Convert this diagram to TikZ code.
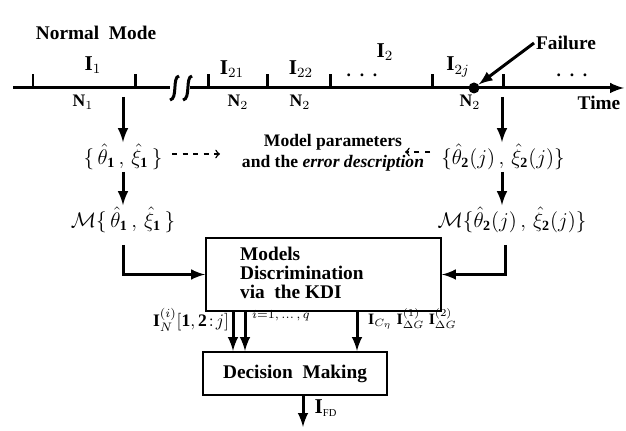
\documentclass[tikz,border=0pt]{standalone}
\usepackage{xcolor}
\usepackage{amsmath}
\usepackage{fontspec}
\setmainfont{Liberation Serif}
\usepackage{tikz}
\usetikzlibrary{arrows, positioning}

\tikzset{
	thickline/.style={line width=0.06cm},
	flow/.style={line width=0.06cm, -latex},
	hint/.style={line width=0.03cm, dashed, ->},
	box/.style={draw, line width=0.04cm, rectangle},
	tag/.style={font=\bfseries, inner sep=1pt},
	bigtag/.style={font=\fontsize{11}{11}\selectfont\bfseries, inner sep=1pt},
	param/.style={font=\large, inner sep=1pt}
}

\begin{document}
\begin{tikzpicture}[x=0.02cm, y=-0.02cm]
	\useasboundingbox (0,0) rectangle (626,431);
	% Zeitachse
	\coordinate (tLeft) at (13,88);
	\coordinate (tBreakL) at (170,88);
	\coordinate (tBreakR) at (190,88);
	\coordinate (tRight) at (624,88);
	\draw[
		thickline
	] (tLeft) -- (tBreakL);
	\draw[
		thickline,
		-latex
	] (tBreakR) -- (tRight);
	% Unterbrechung
	\foreach \c in {175,188}
		\draw[
			thickline
		] (\c+4,76) .. controls (\c-3,77) and (\c+3,99) .. (\c-5,100);
	% Markierungen
	\foreach \x in {33,135,208,267,330,432,503}
		\draw[
			thickline
		] (\x,88) -- (\x,74);
	% Beschriftung oben
	\node[bigtag] (normal) at (96,33) {Normal\ \ Mode};
	\node[bigtag, font=\large] (iOne) at (93,65) {$\mathbf{I}_1$};
	\node[bigtag, font=\large] (iTwoOne) at (232,69) {$\mathbf{I}_{21}$};
	\node[bigtag, font=\large] (iTwoTwo) at (301,69) {$\mathbf{I}_{22}$};
	\node[bigtag, font=\large] (iTwo) at (385,52) {$\mathbf{I}_2$};
	\node[tag] (dotsA) at (362,75) {.\ \ .\ \ .};
	\node[bigtag, font=\large] (iTwoJ) at (458,67) {$\mathbf{I}_{2j}$};
	\node[tag] (dotsB) at (572,75) {.\ \ .\ \ .};
	\node[bigtag] (failure) at (566,43) {Failure};
	% Ausfall
	\node[
		circle,
		fill=black,
		inner sep=0pt,
		minimum size=0.22cm
	] (failDot) at (474,88) {};
	\draw[
		flow
	] (failure.west) -- (failDot);
	% Beschriftung unten
	\node[tag] (nOne) at (83,102) {$\mathbf{N}_1$};
	\node[tag] (nTwoA) at (238,102) {$\mathbf{N}_2$};
	\node[tag] (nTwoB) at (300,102) {$\mathbf{N}_2$};
	\node[tag] (nTwoC) at (470,102) {$\mathbf{N}_2$};
	\node[bigtag] (time) at (599,103) {Time};
	% Parameter
	\node[param] (parOne) at (123,157) {$\{\,\hat{\theta}_{\mathbf{1}}\,,\,\hat{\xi}_{\mathbf{1}}\,\}$};
	\node[param] (parTwo) at (503,157) {$\{\hat{\theta}_{\mathbf{2}}(j)\,,\,\hat{\xi}_{\mathbf{2}}(j)\}$};
	\node[param] (modelOne) at (123,220) {$\mathcal{M}\{\,\hat{\theta}_{\mathbf{1}}\,,\,\hat{\xi}_{\mathbf{1}}\,\}$};
	\node[param] (modelTwo) at (512,220) {$\mathcal{M}\{\hat{\theta}_{\mathbf{2}}(j)\,,\,\hat{\xi}_{\mathbf{2}}(j)\}$};
	\node[
		tag,
		align=center
	] (params) at (333,153) {Model parameters\\and the \textit{error description}};
	\coordinate (downOne) at (123,97);
	\coordinate (downTwo) at (502,97);
	\draw[flow] (downOne) -- (downOne |- parOne.north);
	\draw[flow] (downTwo) -- (downTwo |- parTwo.north);
	\draw[flow] (parOne) -- (parOne |- modelOne.north);
	\draw[flow] (downTwo |- parTwo.south) -- (downTwo |- modelTwo.north);
	\coordinate (hintOneA) at (172,154);
	\coordinate (hintOneB) at (220,154);
	\coordinate (hintTwoA) at (430,152);
	\coordinate (hintTwoB) at (405,152);
	\draw[hint] (hintOneA) -- (hintOneB);
	\draw[hint] (hintTwoA) -- (hintTwoB);
	% Diskriminierung
	\node[
		box,
		minimum width=4.7cm,
		minimum height=1.46cm
	] (kdi) at (323.5,274.5) {};
	\node[
		bigtag,
		anchor=west,
		align=left
	] (kdiText) at (238,273) {Models\\Discrimination\\via\ \ the KDI};
	\coordinate (mOneOut) at (123,245);
	\coordinate (mTwoOut) at (505,245);
	\draw[flow] (mOneOut) |- (kdi.west);
	\draw[flow] (mTwoOut) |- (kdi.east);
	% Entscheidung
	\node[
		box,
		minimum width=3.68cm,
		minimum height=0.86cm
	] (decision) at (295,373.5) {};
	\node[bigtag] (decisionText) at (decision) {Decision\ \ Making};
	\coordinate (dOne) at (233,311);
	\coordinate (dTwo) at (245,311);
	\coordinate (dThree) at (357,311);
	\draw[flow] (dOne) -- (dOne |- decision.north);
	\draw[flow] (dTwo) -- (dTwo |- decision.north);
	\draw[flow] (dThree) -- (dThree |- decision.north);
	\node[tag, anchor=east] (labInd) at (231,320) {$\mathbf{I}_{N}^{(i)}[\mathbf{1},\mathbf{2}\!:\!j]$};
	\node[tag, anchor=west] (labRange) at (250,316) {$\scriptstyle i=1,\,\ldots\,,\,q$};
	\node[tag, font=\small, anchor=west] (labCG) at (366,319) {$\mathbf{I}_{C_\eta}\;\mathbf{I}_{\Delta G}^{(1)}\;\mathbf{I}_{\Delta G}^{(2)}$};
	% Ausgang
	\coordinate (outEnd) at (303,427);
	\draw[flow] (decision.south -| outEnd) -- (outEnd);
	\node[bigtag, font=\large] (labFD) at (326,408) {$\mathbf{I}_{\scriptscriptstyle\mathrm{FD}}$};
\end{tikzpicture}
\end{document}
